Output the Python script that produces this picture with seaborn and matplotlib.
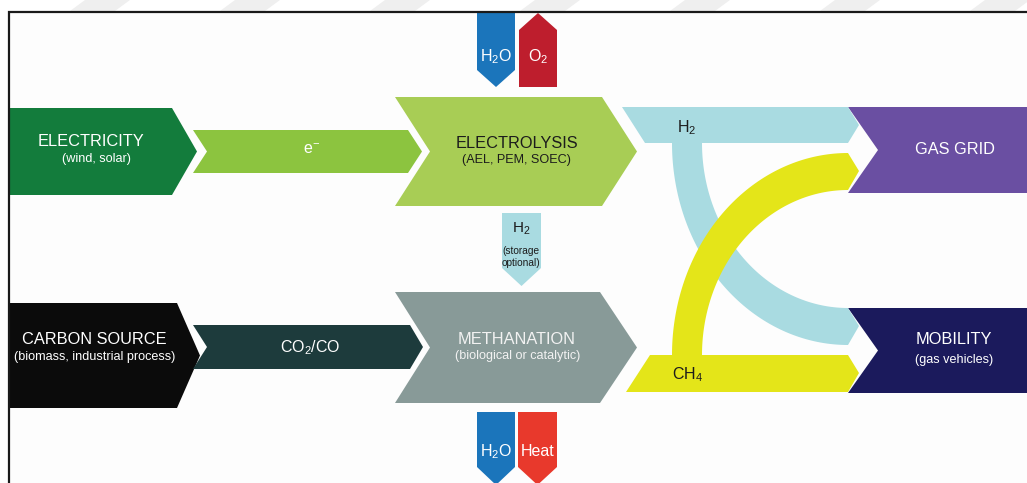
import numpy as np
import matplotlib
matplotlib.use("Agg")
import matplotlib.pyplot as plt
from matplotlib.patches import Polygon
import seaborn as sns

# ---------------- data (labels / colours) ----------------
stage_titles = ["ELECTRICITY", "ELECTROLYSIS", "CARBON SOURCE", "METHANATION", "GAS GRID", "MOBILITY"]
stage_subtitles = ["(wind, solar)", "(AEL, PEM, SOEC)", "(biomass, industrial process)",
                   "(biological or catalytic)", "", "(gas vehicles)"]
carrier_labels = [r"e$^{-}$", r"CO$_2$/CO"]
electrolysis_io = [r"H$_2$O", r"O$_2$"]
methanation_io = [r"H$_2$O", "Heat"]
storage_label = r"H$_2$"
storage_note = ["(storage", "optional)"]
product_labels = [r"H$_2$", r"CH$_4$"]

stage_colors = ["#137c3c", "#a8cd55", "#0b0b0b", "#889a98", "#6a4fa2", "#1b1a5c"]
stage_text_colors = ["white", "#1c1c1c", "white", "#f2f2f2", "white", "white"]
carrier_colors = ["#8cc43f", "#1d3b3c"]
io_colors_top = ["#1b75bb", "#be1e2d"]
io_colors_bottom = ["#1b75bb", "#e8392c"]
h2_color = "#a9dbe1"
ch4_color = "#e4e519"

# ---------------- style ----------------
sns.set_theme(style="white")
plt.rcParams["font.family"] = ["Liberation Sans", "DejaVu Sans"]
plt.rcParams["mathtext.fontset"] = "custom"
plt.rcParams["mathtext.rm"] = "Liberation Sans"
plt.rcParams["mathtext.it"] = "Liberation Sans"
plt.rcParams["mathtext.bf"] = "Liberation Sans:bold"

W, H = 1027, 483
fig = plt.figure(figsize=(W / 100, H / 100), dpi=100)
fig.patch.set_facecolor("white")
ax = fig.add_axes([0, 0, 1, 1])
ax.set_xlim(0, W)
ax.set_ylim(H, 0)
ax.axis("off")


def chevron(xl, xr, yt, yb, tip, notch):
    ym = (yt + yb) / 2
    pts = [(xl, yt), (xr, yt), (xr + tip, ym), (xr, yb), (xl, yb)]
    if notch:
        pts.append((xl + notch, ym))
    return pts


def down_arrow(xl, xr, yt, ys, depth):
    return [(xl, yt), (xr, yt), (xr, ys), ((xl + xr) / 2, ys + depth), (xl, ys)]


def up_arrow(xl, xr, yb, ys, depth):
    return [(xl, yb), (xr, yb), (xr, ys), ((xl + xr) / 2, ys - depth), (xl, ys)]


def arc(cx, cy, rx, ry, a0, a1, n=80):
    t = np.radians(np.linspace(a0, a1, n))
    return list(zip(cx + rx * np.cos(t), cy + ry * np.sin(t)))


def poly(pts, color, z=2):
    ax.add_patch(Polygon(pts, closed=True, facecolor=color, edgecolor="none", zorder=z))


# background & watermark stripes above the frame
ax.add_patch(Polygon([(9, 12), (W, 12), (W, H), (9, H)], facecolor="#fdfdfd", edgecolor="none", zorder=0))
for k in range(7):
    x = 70 + 150 * k
    poly([(x, 11), (x + 45, 11), (x + 60, 0), (x + 15, 0)], "#efefef", z=0)

# ---------------- main stages ----------------
stage_shapes = [
    chevron(10, 172, 108, 195, 25, 0),
    chevron(395, 602, 97, 206, 35, 35),
    chevron(10, 177, 303, 408, 23, 0),
    chevron(395, 600, 292, 403, 37, 35),
    chevron(848, 1045, 107, 193, 0, 30),
    chevron(848, 1045, 308, 393, 0, 30),
]
title_pos = [(91, 141), (517, 143), (94, 340), (517, 339), (955, 150), (954, 340)]
sub_pos = [(96, 159), (517, 160), (95, 357), (518, 356), None, (954, 360)]
for shp, c in zip(stage_shapes, stage_colors):
    poly(shp, c)
for i, t in enumerate(stage_titles):
    ax.text(*title_pos[i], t, color=stage_text_colors[i], fontsize=11.8, ha="center", va="center", zorder=5)
    if stage_subtitles[i]:
        ax.text(*sub_pos[i], stage_subtitles[i], color=stage_text_colors[i], fontsize=9.1,
                ha="center", va="center", zorder=5)

# carriers
carrier_shapes = [chevron(193, 408, 130, 173, 14, 14), chevron(193, 410, 325, 369, 13, 14)]
carrier_pos = [(312, 150), (310, 348)]
for shp, c, lab, p in zip(carrier_shapes, carrier_colors, carrier_labels, carrier_pos):
    poly(shp, c)
    ax.text(*p, lab, color="white", fontsize=11.5, ha="center", va="center", zorder=5)

# electrolysis inputs / outputs
poly(down_arrow(477, 515, 13, 70, 17), io_colors_top[0])
poly(up_arrow(519, 557, 87, 30, 17), io_colors_top[1])
ax.text(496, 57, electrolysis_io[0], color="white", fontsize=11.5, ha="center", va="center", zorder=5)
ax.text(538, 57, electrolysis_io[1], color="white", fontsize=11.5, ha="center", va="center", zorder=5)

# methanation inputs / outputs
poly(down_arrow(477, 515, 412, 467, 18), io_colors_bottom[0])
poly(down_arrow(518, 557, 412, 467, 18), io_colors_bottom[1])
ax.text(496, 452, methanation_io[0], color="white", fontsize=11.5, ha="center", va="center", zorder=5)
ax.text(538, 451, methanation_io[1], color="white", fontsize=11.5, ha="center", va="center", zorder=5)

# hydrogen storage arrow
poly(down_arrow(502, 541, 213, 268, 18), h2_color)
ax.text(521, 229, storage_label, color="#1c1c1c", fontsize=11, ha="center", va="center", zorder=5)
ax.text(521, 251, storage_note[0], color="#1c1c1c", fontsize=7.3, ha="center", va="center", zorder=5)
ax.text(521, 263, storage_note[1], color="#1c1c1c", fontsize=7.3, ha="center", va="center", zorder=5)

# ---------------- product bands ----------------
tip = 11
cx = 848
# H2 band: top bar to gas grid, curve down to mobility
cyb = 143
blue = [(622, 107), (cx, 107), (cx + tip, 125), (cx, cyb)]
blue += arc(cx, cyb, 146, 165, 180, 90)
blue += [(cx + tip, 326)]
blue += arc(cx, cyb, 176, 202, 90, 180)
blue += [(645, cyb)]
poly(blue, h2_color, z=3)

# CH4 band: bottom bar to mobility, curve up to gas grid
cyy = 355
yellow = [(626, 392), (650, cyy)]
yellow += arc(cx, cyy, 176, 202, 180, 270)
yellow += [(cx + tip, 171)]
yellow += arc(cx, cyy, 146, 165, 270, 180)
yellow += [(cx, cyy), (cx + tip, 373), (cx, 392)]
poly(yellow, ch4_color, z=4)

ax.text(687, 128, product_labels[0], color="#1c1c1c", fontsize=11.5, ha="center", va="center", zorder=6)
ax.text(688, 375, product_labels[1], color="#1c1c1c", fontsize=11.5, ha="center", va="center", zorder=6)

# frame
ax.plot([9, 9, W + 5], [H + 5, 12, 12], color="#1a1a1a", lw=1.6, zorder=10, solid_joinstyle="miter")

fig.savefig("out.png", dpi=100)
